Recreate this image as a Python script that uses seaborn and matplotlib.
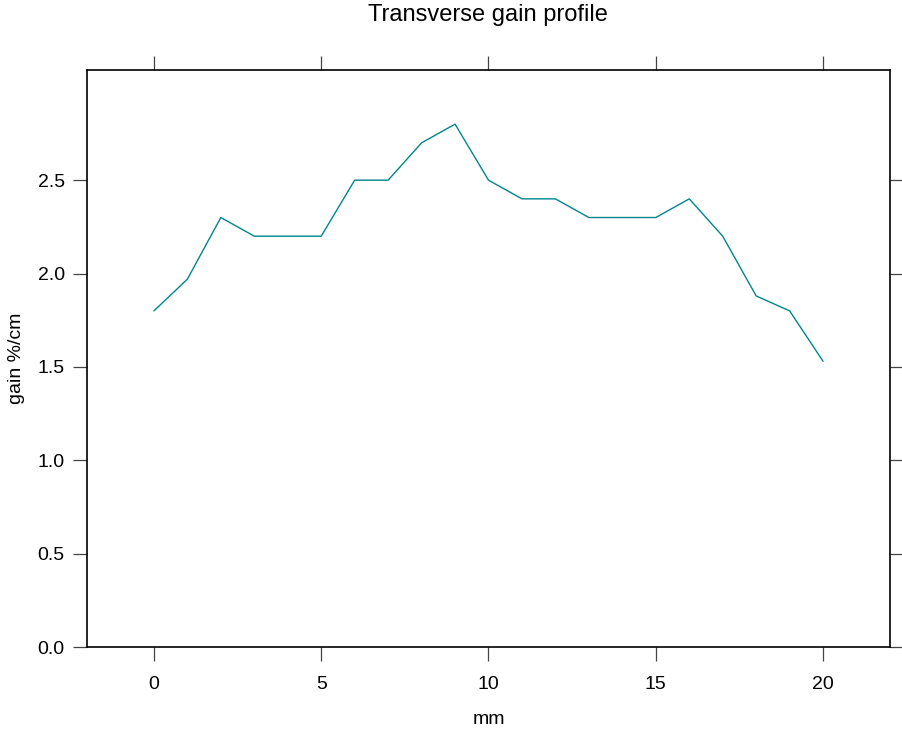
import matplotlib
matplotlib.use("Agg")
import matplotlib.pyplot as plt
import seaborn as sns
import pandas as pd

mm = list(range(21))
gain = [1.80, 1.97, 2.30, 2.20, 2.20, 2.20, 2.50, 2.50, 2.70, 2.80, 2.50,
        2.40, 2.40, 2.30, 2.30, 2.30, 2.40, 2.20, 1.88, 1.80, 1.53]
xticks = [0, 5, 10, 15, 20]
yticks = [0.0, 0.5, 1.0, 1.5, 2.0, 2.5]

sns.set_style("white")
plt.rcParams['font.family'] = ['Liberation Sans', 'DejaVu Sans']
plt.rcParams['text.color'] = 'black'
plt.rcParams['axes.labelcolor'] = 'black'
plt.rcParams['xtick.color'] = 'black'
plt.rcParams['ytick.color'] = 'black'

df = pd.DataFrame({"mm": mm, "gain": gain})

fig = plt.figure(figsize=(9.03, 7.30), dpi=100)
ax = fig.add_axes([87/903, 1-647/730, (890-87)/903, (647-70)/730])
sns.lineplot(data=df, x="mm", y="gain", ax=ax, color="#00868B", lw=1)

ax.set_xlim(-2, 22)
ax.set_ylim(0, 3.09)
ax.set_xticks(xticks)
ax.set_yticks(yticks)
ax.set_yticklabels([f"{v:.1f}" for v in yticks])
for s in ax.spines.values():
    s.set_visible(True)
    s.set_color("black")
    s.set_linewidth(1.2)
ax.tick_params(axis="both", which="both", direction="out", length=10, width=0.9,
               color="#444444", labelcolor="black", labelsize=14,
               top=True, right=True, bottom=True, left=True,
               labeltop=False, labelright=False, labelbottom=True, labelleft=True)
ax.tick_params(axis="x", pad=11)
ax.tick_params(axis="y", pad=6)
ax.set_xlabel("mm", fontsize=14, labelpad=13)
ax.set_ylabel("gain %/cm", fontsize=14, labelpad=9)
fig.text(488/903, 1-15/730, "Transverse gain profile", ha="center", va="center", fontsize=17)
fig.savefig("out.png", dpi=100)
